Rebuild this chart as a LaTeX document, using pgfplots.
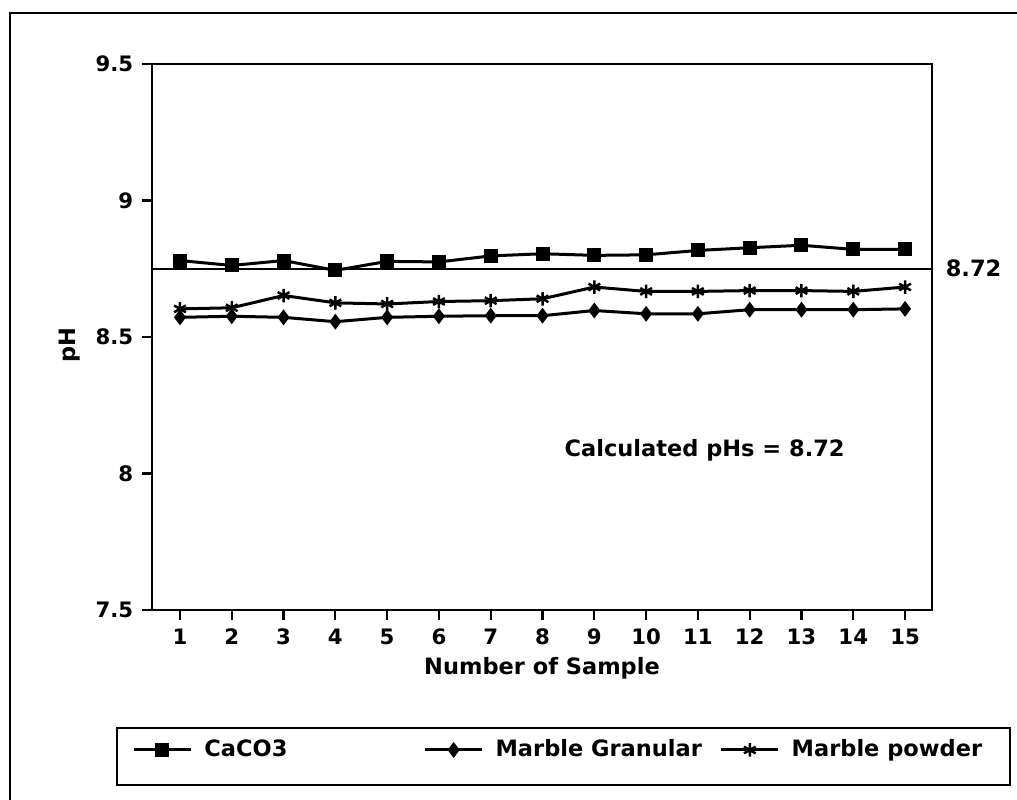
\documentclass[border=0pt]{standalone}
\usepackage{fontspec}
\setmainfont{DejaVu Sans}
\usepackage{pgfplots}
\pgfplotsset{compat=1.18}

\begin{document}
\begin{tikzpicture}
% page = 1017 x 800 px at 0.4pt per px
\useasboundingbox (0,0) rectangle (406.8pt,-320pt);
% outer frame of the scanned figure
\draw[line width=1pt] (4pt,-320pt) -- (4pt,-5.2pt) -- (406.8pt,-5.2pt);
% legend frame
\draw[line width=1pt] (46.8pt,-291.2pt) rectangle (404pt,-314pt);

\begin{axis}[
    at={(60.8pt,-244pt)}, anchor=south west,
    scale only axis,
    width=312pt, height=218.4pt,
    xmin=0.46, xmax=15.52,
    ymin=7.5, ymax=9.5,
    xtick={1,...,15},
    ytick={7.5,8,8.5,9,9.5},
    tick align=outside,
    xtick pos=bottom, ytick pos=left,
    major tick length=4pt,
    tick style={line width=0.9pt, black},
    axis line style={line width=1pt},
    /pgf/number format/assume math mode=true,
    tick label style={font=\fontsize{8.5}{10}\selectfont\bfseries},
    label style={font=\fontsize{9}{11}\selectfont\bfseries},
    xlabel={Number of Sample},
    ylabel={pH},
    xlabel style={at={(axis description cs:0.5,-0.106)}, anchor=center},
    ylabel style={at={(axis description cs:-0.105,0.485)}, anchor=center},
    legend columns=3,
    legend style={at={(axis description cs:-0.0256,-0.2564)}, anchor=west,
        draw=none, fill=none, inner sep=0pt,
        font=\fontsize{9}{11}\selectfont\bfseries,
        nodes={inner sep=0pt},
        /tikz/every odd column/.style={column sep=4.8pt}},
    legend image code/.code={%
        \draw[mark repeat=2,mark phase=2] plot coordinates {(0cm,0cm) (0.4cm,0cm) (0.8cm,0cm)};},
    clip=false,
]
% CaCO3
\addplot[black, line width=1.2pt, mark=square*, mark size=2.2pt] coordinates {
    (1,8.780) (2,8.762) (3,8.780) (4,8.744) (5,8.777) (6,8.775) (7,8.797) (8,8.805)
    (9,8.799) (10,8.801) (11,8.817) (12,8.827) (13,8.836) (14,8.821) (15,8.821)
};
\addlegendentry{\makebox[87.7pt][l]{CaCO3}}
% Marble Granular
\addplot[black, line width=1.2pt, mark=diamond*, mark size=2.2pt] coordinates {
    (1,8.572) (2,8.576) (3,8.572) (4,8.556) (5,8.572) (6,8.576) (7,8.578) (8,8.578)
    (9,8.597) (10,8.585) (11,8.585) (12,8.600) (13,8.600) (14,8.600) (15,8.603)
};
\addlegendentry{\makebox[89.7pt][l]{Marble Granular}}
% Marble powder
\addplot[black, line width=1.2pt, mark=asterisk, mark size=2.7pt, mark options={line width=1pt}] coordinates {
    (1,8.603) (2,8.607) (3,8.652) (4,8.625) (5,8.621) (6,8.630) (7,8.633) (8,8.640)
    (9,8.683) (10,8.667) (11,8.667) (12,8.670) (13,8.670) (14,8.667) (15,8.683)
};
\addlegendentry{Marble powder}
% calculated pHs reference line
\draw[line width=0.8pt] (axis cs:0.46,8.75) -- (axis cs:15.52,8.75);
\node[anchor=west, font=\fontsize{9}{11}\selectfont\bfseries, xshift=2pt] at (axis cs:15.52,8.75) {8.72};
\node[font=\fontsize{9}{11}\selectfont\bfseries] at (axis cs:11.13,8.086) {Calculated pHs = 8.72};
\end{axis}
\end{tikzpicture}
\end{document}
